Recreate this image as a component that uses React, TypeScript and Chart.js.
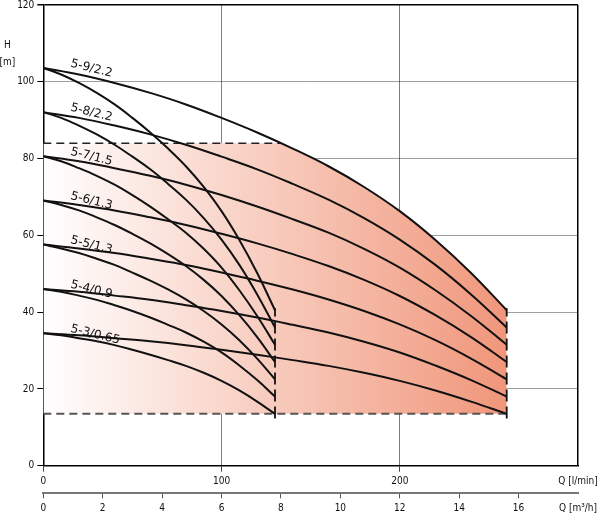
import { useEffect, useRef } from 'react';
import Chart from 'chart.js/auto';

// Förderstrom (l/min) für die flachen und die steilen Kennlinien
const flowLpm = [0, 20, 40, 60, 80, 100, 120, 140, 160, 180, 200, 220, 240, 260];
const flowLpmSteep = [0, 10, 20, 30, 40, 50, 60, 70, 80, 90, 100, 110, 120, 130];

const pumpLabels = ['5-3/0.65', '5-4/0.9', '5-5/1.3', '5-6/1.3', '5-7/1.5', '5-8/2.2', '5-9/2.2'];

// Förderhöhe H (m)
const head53 = [34.5, 34.0, 33.2, 32.4, 31.4, 30.2, 28.9, 27.5, 26.0, 24.2, 22.1, 19.6, 16.7, 13.5];
const head54 = [46.0, 45.3, 44.3, 43.2, 41.8, 40.3, 38.6, 36.7, 34.7, 32.3, 29.5, 26.1, 22.3, 18.0];
const head55 = [57.6, 56.6, 55.4, 53.9, 52.3, 50.3, 48.2, 45.9, 43.3, 40.3, 36.8, 32.7, 27.9, 22.5];
const head56 = [69.1, 67.9, 66.5, 64.7, 62.7, 60.4, 57.9, 55.1, 52.0, 48.4, 44.2, 39.2, 33.5, 27.0];
const head57 = [80.6, 79.3, 77.5, 75.5, 73.2, 70.5, 67.5, 64.2, 60.7, 56.5, 51.6, 45.7, 39.0, 31.5];
const head58 = [92.1, 90.6, 88.6, 86.3, 83.6, 80.5, 77.2, 73.4, 69.3, 64.5, 58.9, 52.3, 44.6, 36.0];
const head59 = [103.6, 101.9, 99.7, 97.1, 94.1, 90.6, 86.8, 82.6, 78.0, 72.6, 66.3, 58.8, 50.2, 40.5];
const pumpHeads = [head53, head54, head55, head56, head57, head58, head59];

// Einsatzbereich (schattiert)
const shadeFlow = [0, 133, 140, 160, 180, 200, 220, 240, 260];
const shadeHead = [84, 84, 82.6, 78.0, 72.6, 66.3, 58.8, 50.2, 40.5];
const shadeBase = 13.5;

const limitTopFlow = [0, 133];
const limitTopHead = [84, 84];
const limitBottomFlow = [0, 260];
const limitBottomHead = [13.5, 13.5];
const endFlows = [130, 260];
const endHeads = [12.3, 41];

const font = "'DejaVu Sans Condensed', 'DejaVu Sans', sans-serif";
const labelFont = "'DejaVu Sans', sans-serif";

const pts = (xs: number[], ys: number[]) => xs.map((x, i) => ({ x, y: ys[i] }));

const labelPlugin = {
  id: 'pumpLabels',
  afterDraw(chart: any) {
    const { ctx, scales } = chart;
    const x = scales.x;
    const y = scales.y;
    ctx.save();
    ctx.fillStyle = '#111';
    ctx.font = `12px ${labelFont}`;
    ctx.textBaseline = 'alphabetic';
    pumpLabels.forEach((label, i) => {
      ctx.save();
      ctx.translate(x.getPixelForValue(15), y.getPixelForValue(pumpHeads[i][0] + 0.4));
      ctx.rotate((14 * Math.PI) / 180);
      ctx.fillText(label, 0, 0);
      ctx.restore();
    });
    ctx.font = `10px ${font}`;
    ctx.textAlign = 'center';
    ctx.textBaseline = 'middle';
    ctx.fillText('H', x.left - 36, y.getPixelForValue(109.5));
    ctx.fillText('[m]', x.left - 36, y.getPixelForValue(105));
    ctx.restore();
  },
};

export default function App() {
  const canvasRef = useRef<HTMLCanvasElement>(null);
  const chartRef = useRef<Chart | null>(null);

  useEffect(() => {
    if (!canvasRef.current) return;
    if (chartRef.current) chartRef.current.destroy();

    const curveSets: any[] = [];
    pumpHeads.forEach((heads, i) => {
      curveSets.push({
        label: pumpLabels[i],
        data: pts(flowLpm, heads),
        borderColor: '#111',
        borderWidth: 2,
        pointRadius: 0,
        tension: 0.4,
        fill: false,
      });
      curveSets.push({
        label: pumpLabels[i] + ' steil',
        data: pts(flowLpmSteep, heads),
        borderColor: '#111',
        borderWidth: 2,
        pointRadius: 0,
        tension: 0.4,
        fill: false,
      });
    });

    const dashed = (xs: number[], ys: number[], color: string, width: number, dash: number[]) => ({
      data: pts(xs, ys),
      borderColor: color,
      borderWidth: width,
      borderDash: dash,
      pointRadius: 0,
      tension: 0,
      fill: false,
    });

    const shadeColor = (c: any) => {
      const ch = c.chart;
      if (!ch.chartArea) return 'rgba(0,0,0,0)';
      const xs = ch.scales.x;
      const g = ch.ctx.createLinearGradient(xs.getPixelForValue(0), 0, xs.getPixelForValue(260), 0);
      g.addColorStop(0, '#ffffff');
      g.addColorStop(1, '#f0967a');
      return g;
    };

    chartRef.current = new Chart(canvasRef.current, {
      type: 'line',
      data: {
        datasets: [
          ...curveSets,
          dashed(limitTopFlow, limitTopHead, '#222', 1.4, [8, 5]),
          dashed(limitBottomFlow, limitBottomHead, '#555', 2, [8, 5]),
          dashed([endFlows[0], endFlows[0]], endHeads, '#111', 1.8, [12, 5]),
          dashed([endFlows[1], endFlows[1]], endHeads, '#111', 1.8, [12, 5]),
          {
            data: pts(shadeFlow, shadeHead),
            borderWidth: 0,
            borderColor: 'rgba(0,0,0,0)',
            backgroundColor: shadeColor,
            pointRadius: 0,
            cubicInterpolationMode: 'monotone',
            fill: { value: shadeBase },
            order: 100,
          },
        ],
      },
      options: {
        animation: false,
        responsive: true,
        maintainAspectRatio: false,
        layout: { padding: { left: 0, top: 5, right: 22, bottom: 0 } },
        plugins: {
          legend: { display: false },
          tooltip: { enabled: false },
          filler: { drawTime: 'beforeDatasetsDraw' },
        },
        scales: {
          x: {
            type: 'linear',
            position: 'bottom',
            weight: 0,
            z: 1,
            min: 0,
            max: 300,
            ticks: {
              stepSize: 100,
              autoSkip: false,
              maxRotation: 0,
              padding: 4,
              color: '#111',
              font: { family: font, size: 10 },
              callback: (v: any) => (v === 300 ? 'Q [l/min]' : String(v)),
            },
            grid: {
              color: (c: any) => (c.tick && c.tick.value === 300 ? '#000' : 'rgba(0,0,0,0.5)'),
              lineWidth: (c: any) => (c.tick && c.tick.value === 300 ? 1.5 : 1),
              tickLength: 6,
              tickColor: (c: any) => (c.tick && c.tick.value === 300 ? 'rgba(0,0,0,0)' : '#444'),
            },
            border: { color: '#000', width: 1.5 },
            afterFit: (s: any) => {
              s.height = 27.6;
              s.paddingLeft = 0;
              s.paddingRight = 0;
            },
          },
          x2: {
            type: 'linear',
            position: 'bottom',
            weight: 1,
            min: 0,
            max: 18,
            ticks: {
              stepSize: 2,
              autoSkip: false,
              maxRotation: 0,
              padding: 4,
              color: '#111',
              font: { family: font, size: 10 },
              callback: (v: any) => (v === 18 ? 'Q [m³/h]' : String(v)),
            },
            grid: {
              drawOnChartArea: false,
              tickLength: 5,
              color: '#555',
              tickColor: (c: any) => (c.tick && c.tick.value === 18 ? 'rgba(0,0,0,0)' : '#555'),
            },
            border: { color: '#777', width: 2 },
            afterFit: (s: any) => {
              s.height = 21.7;
              s.paddingLeft = 0;
              s.paddingRight = 0;
            },
          },
          y: {
            type: 'linear',
            min: 0,
            max: 120,
            z: 1,
            ticks: {
              stepSize: 20,
              padding: 3,
              color: '#111',
              font: { family: font, size: 10 },
            },
            grid: {
              color: (c: any) => (c.tick && c.tick.value === 120 ? '#000' : 'rgba(0,0,0,0.38)'),
              lineWidth: (c: any) => (c.tick && c.tick.value === 120 ? 1.5 : 1),
              tickLength: 6,
              tickColor: '#000',
            },
            border: { color: '#000', width: 1.5 },
            afterFit: (s: any) => {
              s.width = 43.3;
              s.paddingTop = 0;
              s.paddingBottom = 0;
            },
          },
        },
      },
      plugins: [labelPlugin],
    });

    return () => {
      if (chartRef.current) {
        chartRef.current.destroy();
        chartRef.current = null;
      }
    };
  }, []);

  return (
    <div style={{ position: 'absolute', left: 0, top: 0, width: 600, height: 515, background: '#fff' }}>
      <canvas ref={canvasRef} />
    </div>
  );
}
